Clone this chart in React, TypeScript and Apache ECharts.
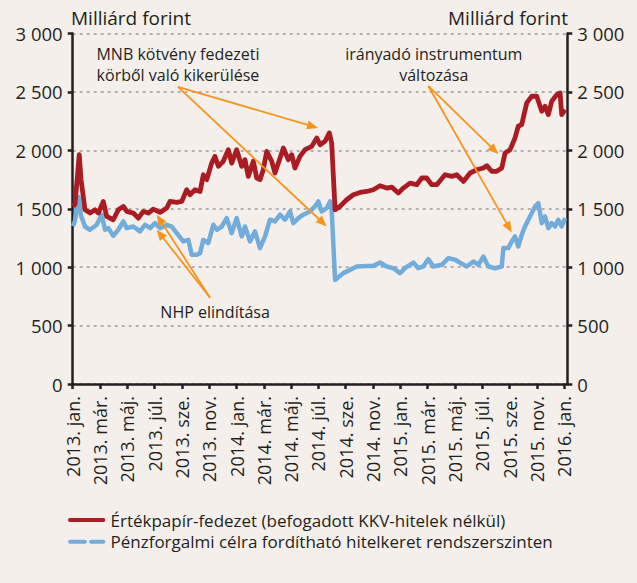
import { useEffect, useRef } from 'react';
import * as echarts from 'echarts';

// x positions are months since 2013 January (0 = start of Jan 2013)
const xTickMonths = [0, 2, 4, 6, 8, 10, 12, 14, 16, 18, 20, 22, 24, 26, 28, 30, 32, 34, 36];
const xTickLabels = [
  '2013. jan.', '2013. már.', '2013. máj.', '2013. júl.', '2013. sze.', '2013. nov.',
  '2014. jan.', '2014. már.', '2014. máj.', '2014. júl.', '2014. sze.', '2014. nov.',
  '2015. jan.', '2015. már.', '2015. máj.', '2015. júl.', '2015. sze.', '2015. nov.',
  '2016. jan.',
];
const yTicks = [0, 500, 1000, 1500, 2000, 2500, 3000];

const redName = 'Értékpapír-fedezet (befogadott KKV-hitelek nélkül)';
const redMonths = [
  0.02, 0.17, 0.48, 0.61, 0.90, 1.27, 1.63, 1.88, 2.24, 2.49, 2.97, 3.34, 3.71, 3.96, 4.44, 4.81,
  5.17, 5.54, 5.90, 6.40, 6.89, 7.13, 7.62, 7.99, 8.35, 8.59, 8.96, 9.33, 9.57, 9.82, 10.18, 10.42,
  10.67, 11.03, 11.40, 11.65, 12.01, 12.38, 12.62, 12.86, 13.23, 13.48, 13.72, 13.96, 14.21, 14.58,
  14.82, 15.19, 15.43, 15.79, 16.04, 16.28, 16.65, 17.02, 17.51, 17.88, 18.12, 18.48, 18.80, 18.97,
  19.22, 19.58, 20.07, 20.56, 21.05, 21.54, 22.02, 22.51, 23.00, 23.37, 23.85, 24.22, 24.71, 25.20,
  25.57, 25.93, 26.30, 26.67, 27.27, 27.77, 28.13, 28.62, 29.11, 29.60, 30.08, 30.33, 30.70, 31.06,
  31.43, 31.67, 32.04, 32.40, 32.64, 32.89, 33.26, 33.63, 33.99, 34.36, 34.60, 34.84, 35.09, 35.46,
  35.70, 35.82, 36.07,
];
const redValues = [
  1520, 1540, 1963, 1750, 1491, 1463, 1491, 1463, 1563, 1434, 1406, 1491, 1520, 1477, 1463, 1420,
  1477, 1463, 1497, 1469, 1506, 1563, 1554, 1563, 1663, 1620, 1663, 1648, 1791, 1749, 1891, 1948,
  1863, 1906, 2006, 1891, 2006, 1863, 1920, 1777, 1906, 1763, 1749, 1834, 1991, 1906,
  1806, 1934, 2020, 1920, 1963, 1849, 1948, 2006, 2034, 2106, 2048, 2077, 2149, 2063,
  1491, 1520, 1577, 1620, 1640, 1648, 1663, 1697, 1677, 1685, 1634, 1677, 1720, 1706,
  1763, 1763, 1706, 1706, 1791, 1777, 1791, 1734, 1806, 1834, 1849, 1869, 1820, 1820,
  1849, 1977, 2006, 2106, 2206, 2220, 2406, 2463, 2463, 2334, 2377, 2306, 2420, 2477,
  2491, 2306, 2349,
];

const blueName = 'Pénzforgalmi célra fordítható hitelkeret rendszerszinten';
const blueMonths = [
  0.02, 0.17, 0.42, 0.61, 0.90, 1.27, 1.76, 2.12, 2.37, 2.61, 2.97, 3.34, 3.71, 3.96, 4.44, 4.93,
  5.30, 5.67, 6.03, 6.40, 6.89, 7.25, 7.62, 8.10, 8.47, 8.72, 9.08, 9.33, 9.57, 9.93, 10.30, 10.55,
  10.92, 11.28, 11.65, 12.01, 12.38, 12.62, 12.99, 13.35, 13.72, 14.09, 14.45, 14.82, 15.19, 15.55,
  15.92, 16.16, 16.53, 16.89, 17.38, 17.75, 17.99, 18.24, 18.61, 18.85, 18.97, 19.22, 19.82, 20.31,
  20.81, 21.54, 22.02, 22.51, 23.00, 23.49, 23.98, 24.34, 24.95, 25.32, 25.68, 26.05, 26.42, 27.03,
  27.52, 28.01, 28.50, 28.86, 29.35, 29.72, 30.08, 30.45, 30.94, 31.43, 31.55, 31.91, 32.16, 32.40,
  32.64, 32.89, 33.13, 33.38, 33.63, 33.87, 34.11, 34.36, 34.60, 34.84, 35.09, 35.33, 35.57, 35.82,
  36.07,
];
const blueValues = [
  1350, 1400, 1600, 1440, 1348, 1320, 1363, 1449, 1320, 1334, 1269, 1320, 1391, 1334, 1348, 1306,
  1363, 1334, 1377, 1334, 1363, 1348, 1291, 1220, 1234, 1106, 1106, 1120, 1234, 1206, 1363, 1320,
  1348, 1420, 1291, 1420, 1263, 1348, 1220, 1306, 1163, 1263, 1406, 1391, 1449, 1406,
  1477, 1377, 1420, 1449, 1477, 1520, 1563, 1477, 1506, 1563, 1491, 891, 949, 977,
  1006, 1011, 1011, 1040, 1006, 991, 949, 991, 1040, 991, 1006, 1069, 1006, 1020,
  1077, 1063, 1029, 1006, 1049, 1020, 1091, 1006, 991, 1006, 1163, 1163, 1220, 1263,
  1177, 1277, 1348, 1406, 1463, 1520, 1548, 1377, 1434, 1334, 1377, 1348, 1406, 1348,
  1420,
];

// annotations in data coordinates [month, value]; one entry per text line
const annotations = [
  {
    lines: ['MNB kötvény fedezeti', 'körből való kikerülése'],
    textAt: [7.71, 2733],
    from: [7.71, 2543],
    to: [[17.97, 2192], [18.61, 1349]],
  },
  {
    lines: ['NHP elindítása'],
    textAt: [10.43, 620],
    from: [10.06, 739],
    to: [[6.15, 1449], [6.15, 1321]],
  },
  {
    lines: ['irányadó instrumentum', 'változása'],
    textAt: [26.45, 2735],
    from: [26.05, 2551],
    to: [[31.18, 1968], [32.16, 1297]],
  },
];

const BG = '#f5efec';
const TEXT = '#231f20';
const RED = '#a81c22';
const BLUE = '#71acdb';
const ORANGE = '#f7941d';
const FONT = '"Open Sans", sans-serif';

function fmtY(v: number) {
  if (v >= 1000) {
    const t = Math.floor(v / 1000);
    const r = String(v % 1000).padStart(3, '0');
    return `${t} ${r}`;
  }
  return String(v);
}

export default function App() {
  const ref = useRef<HTMLDivElement>(null);
  useEffect(() => {
    document.body.style.margin = '0';
    if (!ref.current) return;
    const chart = echarts.init(ref.current, null, { renderer: 'svg' });
    const labelMap: Record<number, string> = {};
    xTickMonths.forEach((m, i) => (labelMap[m] = xTickLabels[i]));

    const axisLine = { show: true, lineStyle: { color: TEXT, width: 2.5 } };
    const yAxisBase = {
      type: 'value',
      min: yTicks[0],
      max: yTicks[yTicks.length - 1],
      interval: 500,
      axisLine,
      axisTick: { show: true, length: 5, lineStyle: { color: TEXT, width: 2.5 } },
      axisLabel: {
        color: TEXT,
        fontFamily: FONT,
        fontSize: 18.5,
        margin: 10,
        formatter: (v: number) => fmtY(v),
      },
    };

    chart.setOption({
      animation: false,
      backgroundColor: BG,
      grid: { left: 72.7, right: 69.7, top: 33.5, bottom: 199 },
      xAxis: {
        type: 'value',
        min: 0,
        max: 36.23,
        interval: 2,
        axisLine,
        axisTick: {
          show: true,
          length: 5,
          lineStyle: { color: TEXT, width: 2.5 },
          customValues: xTickMonths,
        },
        axisLabel: {
          rotate: 90,
          color: TEXT,
          fontFamily: FONT,
          fontSize: 18,
          margin: 12,
          customValues: xTickMonths,
          formatter: (v: number) => labelMap[Math.round(v)] ?? '',
        },
        splitLine: { show: false },
      },
      yAxis: [
        {
          ...yAxisBase,
          position: 'left',
          splitLine: { show: true, lineStyle: { color: '#9b9b9b', type: [3, 4], width: 1.5 } },
        },
        {
          ...yAxisBase,
          position: 'right',
          splitLine: { show: false },
        },
      ],
      series: [
        {
          name: blueName,
          type: 'line',
          showSymbol: false,
          data: blueMonths.map((m, i) => [m, blueValues[i]]),
          lineStyle: { color: BLUE, width: 4.5, join: 'round' },
          itemStyle: { color: BLUE },
          z: 2,
        },
        {
          name: redName,
          type: 'line',
          showSymbol: false,
          data: redMonths.map((m, i) => [m, redValues[i]]),
          lineStyle: { color: RED, width: 4.8, join: 'round' },
          itemStyle: { color: RED },
          z: 3,
        },
      ],
    });

    const px = (p: number[]) => chart.convertToPixel({ gridIndex: 0 }, p) as number[];
    const graphics: any[] = [];
    const lineGap = 21;

    annotations.forEach((a) => {
      const s = px(a.from);
      a.to.forEach((t) => {
        const e = px(t);
        const dx = e[0] - s[0];
        const dy = e[1] - s[1];
        const len = Math.sqrt(dx * dx + dy * dy);
        const ux = dx / len;
        const uy = dy / len;
        const headL = 11;
        const headW = 4.5;
        const bx = e[0] - ux * headL;
        const by = e[1] - uy * headL;
        graphics.push({
          type: 'line',
          z: 50,
          shape: { x1: s[0], y1: s[1], x2: bx + ux * 2, y2: by + uy * 2 },
          style: { stroke: ORANGE, lineWidth: 1.8 },
        });
        graphics.push({
          type: 'polygon',
          z: 50,
          shape: {
            points: [
              [e[0], e[1]],
              [bx - uy * headW, by + ux * headW],
              [bx + uy * headW, by - ux * headW],
            ],
          },
          style: { fill: ORANGE },
        });
      });
      const tp = px(a.textAt);
      const n = a.lines.length;
      a.lines.forEach((ln, i) => {
        graphics.push({
          type: 'text',
          z: 60,
          x: tp[0],
          y: tp[1] + (i - (n - 1) / 2) * lineGap,
          style: {
            text: ln,
            align: 'center',
            verticalAlign: 'middle',
            fontFamily: FONT,
            fontSize: 16,
            fill: TEXT,
          },
        });
      });
    });

    // axis titles
    graphics.push({
      type: 'text',
      x: 71,
      y: 18,
      style: { text: 'Milliárd forint', align: 'left', verticalAlign: 'middle', fontFamily: FONT, fontSize: 19, fill: TEXT },
    });
    graphics.push({
      type: 'text',
      x: 568,
      y: 18,
      style: { text: 'Milliárd forint', align: 'right', verticalAlign: 'middle', fontFamily: FONT, fontSize: 19, fill: TEXT },
    });

    // legend
    const legY1 = 520;
    const legY2 = 541.7;
    graphics.push({
      type: 'line',
      shape: { x1: 70, y1: legY1, x2: 103.3, y2: legY1 },
      style: { stroke: RED, lineWidth: 4, lineCap: 'round' },
    });
    graphics.push({
      type: 'line',
      shape: { x1: 70, y1: legY2, x2: 85, y2: legY2 },
      style: { stroke: BLUE, lineWidth: 4, lineCap: 'round' },
    });
    graphics.push({
      type: 'line',
      shape: { x1: 91, y1: legY2, x2: 103.3, y2: legY2 },
      style: { stroke: BLUE, lineWidth: 4, lineCap: 'round' },
    });
    graphics.push({
      type: 'text',
      x: 110.5,
      y: legY1,
      style: { text: redName, align: 'left', verticalAlign: 'middle', fontFamily: FONT, fontSize: 17, fill: TEXT },
    });
    graphics.push({
      type: 'text',
      x: 110.5,
      y: legY2,
      style: { text: blueName, align: 'left', verticalAlign: 'middle', fontFamily: FONT, fontSize: 17, fill: TEXT },
    });

    chart.setOption({ graphic: graphics });

    return () => chart.dispose();
  }, []);
  return <div ref={ref} style={{ width: 637, height: 583 }} />;
}
